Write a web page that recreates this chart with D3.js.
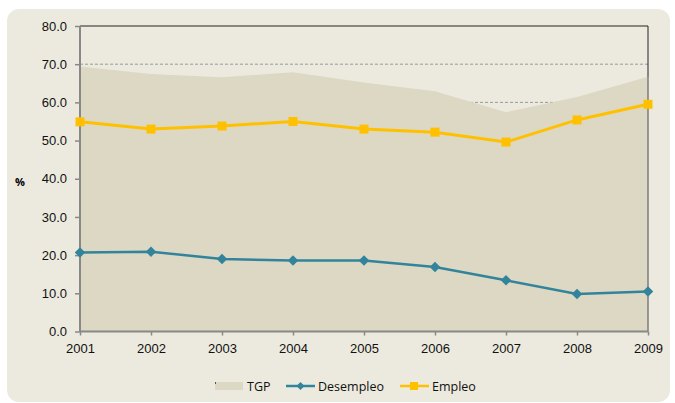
<!DOCTYPE html>
<html><head><meta charset="utf-8">
<script src="https://cdn.jsdelivr.net/npm/d3@7"></script>
<style>body{margin:0;background:#fff}svg{display:block;font-family:"Open Sans","Noto Sans",sans-serif}</style>
</head><body><svg id="c" width="675" height="403"></svg>
<script>
const years = [2001,2002,2003,2004,2005,2006,2007,2008,2009];
const tgp = [69.4,67.4,66.6,67.9,65.2,62.9,57.4,61.4,66.7];
const desempleo = [20.7,20.9,19.0,18.6,18.6,16.9,13.4,9.8,10.5];
const empleo = [54.9,53.0,53.8,55.0,53.0,52.2,49.6,55.4,59.5];
const yTicks = [0,10,20,30,40,50,60,70,80];

const svg = d3.select("#c");
const bg = "#ECEADF", areaC = "#DDD8C3", teal = "#31849B", gold = "#FFC000";
svg.append("rect").attr("x",7).attr("y",9).attr("width",663).attr("height",393).attr("rx",12).attr("fill",bg);

const x = d3.scaleLinear().domain([2001,2009]).range([80,648]);
const y = d3.scaleLinear().domain([0,80]).range([331.5,26]);

// gridlines
svg.append("g").selectAll("line").data(yTicks.filter(d=>d>0&&d<80)).join("line")
  .attr("x1",80).attr("x2",648).attr("y1",d=>y(d)).attr("y2",d=>y(d))
  .attr("stroke","#999").attr("stroke-dasharray","3,2").attr("stroke-width",1);

// area
svg.append("path").datum(years.map((d,i)=>[d,tgp[i]]))
  .attr("d",d3.area().x(d=>x(d[0])).y0(y(0)).y1(d=>y(d[1])))
  .attr("fill",areaC);

// plot border top and right
svg.append("path").attr("d",`M80,${y(80)}H648V${y(0)}`).attr("fill","none").attr("stroke","#222").attr("stroke-width",1);
svg.append("line").attr("x1",648).attr("x2",648).attr("y1",y(tgp[8])).attr("y2",y(0)).attr("stroke","#aaa");

// axes
const ya = svg.append("g").attr("transform","translate(80,0)")
  .call(d3.axisLeft(y).tickValues(yTicks).tickFormat(d3.format(".1f")).tickSize(5).tickPadding(8));
const xa = svg.append("g").attr("transform",`translate(0,${y(0)})`)
  .call(d3.axisBottom(x).tickValues(years).tickFormat(d3.format("d")).tickSize(4).tickPadding(8));
[ya,xa].forEach(a=>{
  a.select(".domain").attr("stroke","#888").attr("stroke-width",2);
  a.selectAll(".tick line").attr("stroke","#888").attr("stroke-width",1.5);
  a.selectAll("text").attr("font-size",13).attr("fill","#111");
});
ya.select(".domain").attr("d",`M0,${y(80)}V${y(0)}`);
xa.select(".domain").attr("d",`M80,0H648`);

svg.append("text").attr("x",20).attr("y",186).attr("text-anchor","middle").attr("font-size",11).attr("font-weight","bold").text("%");

// lines
const line = d3.line().x(d=>x(d[0])).y(d=>y(d[1]));
const dd = years.map((d,i)=>[d,desempleo[i]]);
const ee = years.map((d,i)=>[d,empleo[i]]);
svg.append("path").datum(dd).attr("d",line).attr("fill","none").attr("stroke",teal).attr("stroke-width",2.5);
svg.append("g").selectAll("path").data(dd).join("path")
  .attr("d",d3.symbol(d3.symbolDiamond2,70)).attr("transform",d=>`translate(${x(d[0])},${y(d[1])})`).attr("fill",teal);
svg.append("path").datum(ee).attr("d",line).attr("fill","none").attr("stroke",gold).attr("stroke-width",3);
svg.append("g").selectAll("rect").data(ee).join("rect")
  .attr("x",d=>x(d[0])-4.5).attr("y",d=>y(d[1])-4.5).attr("width",9).attr("height",9).attr("fill",gold);

// legend
const lg = svg.append("g").attr("font-size",12.5).attr("fill","#111");
lg.append("rect").attr("x",215).attr("y",382).attr("width",28).attr("height",8).attr("fill",areaC);
lg.append("rect").attr("x",215).attr("y",382).attr("width",1).attr("height",2).attr("fill","#555");
lg.append("text").attr("x",247).attr("y",390.5).text("TGP");
lg.append("line").attr("x1",286).attr("x2",315).attr("y1",386).attr("y2",386).attr("stroke",teal).attr("stroke-width",2.5);
lg.append("path").attr("d",d3.symbol(d3.symbolDiamond2,40)).attr("transform","translate(300.5,386)").attr("fill",teal);
lg.append("text").attr("x",318).attr("y",390.5).text("Desempleo");
lg.append("line").attr("x1",400).attr("x2",429).attr("y1",386).attr("y2",386).attr("stroke",gold).attr("stroke-width",2.5);
lg.append("rect").attr("x",410).attr("y",382).attr("width",8).attr("height",8).attr("fill",gold);
lg.append("text").attr("x",432).attr("y",390.5).text("Empleo");
</script></body></html>
